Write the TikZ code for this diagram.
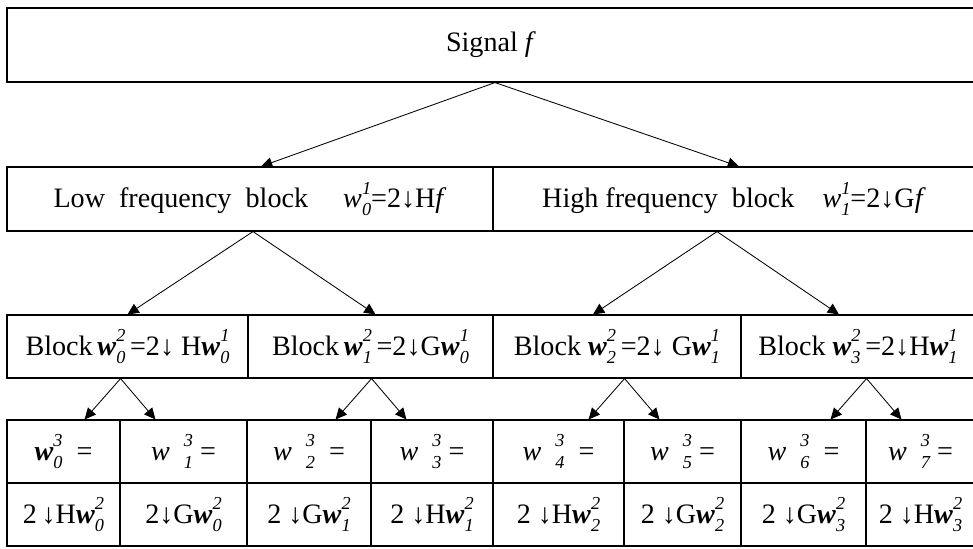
\documentclass[tikz,border=0pt]{standalone}
\usepackage{fontspec}
\setmainfont{Liberation Serif}
\usepackage{tikz}
\usetikzlibrary{positioning,calc}
\usetikzlibrary{arrows.meta}
\newcommand{\sx}[2]{\rlap{\raisebox{-0.6ex}{\fontsize{13}{13}\selectfont\textit{#1}}}\raisebox{1.05ex}{\fontsize{13}{13}\selectfont\textit{#2}}}
\newcommand{\wv}[2]{\textit{w}\sx{#1}{#2}}
\newcommand{\wb}[2]{\textbf{\textit{w}}\sx{#1}{#2}}
\tikzset{
	cell/.style 2 args={draw=black,line width=0.8pt,inner sep=0pt,
		minimum width=(#1)*0.025cm,minimum height=(#2)*0.025cm,
		font=\fontsize{20}{24}\selectfont},
	split/.style={draw=black,line width=0.6pt,-{Triangle[length=8pt,width=7.5pt]}},
}

\begin{document}
\begin{tikzpicture}[x=0.025cm,y=-0.025cm]
	\useasboundingbox (0,0) rectangle (973,548);
	% top
	\node[cell={968}{74}] (sig) at (491,45) {Signal \textit{f}};
	% first level
	\node[cell={486}{64}] (lo) at (250,199) {Low\ \ frequency\ \ block\quad\ \wv{0}{1}=2↓H\textit{f}};
	\node[cell={482}{64}] (hi) at (734,199) {High frequency\ \ block\quad \wv{1}{1}=2↓G\textit{f}};
	% second level
	\node[cell={241}{63}] (m0) at (127.5,346.5) {Block\,\wb{0}{2}\,=2↓ H\wb{0}{1}};
	\node[cell={245}{63}] (m1) at (370.5,346.5) {Block\,\wb{1}{2}\,=2↓G\wb{0}{1}};
	\node[cell={248}{63}] (m2) at (617,346.5) {Block \wb{2}{2}\,=2↓ G\wb{1}{1}};
	\node[cell={234}{63}] (m3) at (858,346.5) {Block \wb{3}{2}\,=2↓H\wb{1}{1}};
	% third level, two rows
	\foreach \i/\xa/\xb/\txta/\txtb in {
		0/7/120/{\wb{0}{3}\ \ =}/{2\,↓H\wb{0}{2}},
		1/120/247/{\textit{w}\ \ \sx{1}{3}\ =}/{2↓G\wb{0}{2}},
		2/247/371/{\textit{w}\ \ \sx{2}{3}\ \ =}/{2 ↓G\wb{1}{2}},
		3/371/493/{\textit{w}\ \ \sx{3}{3}\ =}/{2 ↓H\wb{1}{2}},
		4/493/624/{\textit{w}\ \ \sx{4}{3}\ \ =}/{2 ↓H\wb{2}{2}},
		5/624/741/{\textit{w}\ \ \sx{5}{3}\ =}/{2 ↓G\wb{2}{2}},
		6/741/866/{\textit{w}\ \ \sx{6}{3}\ \ =}/{2 ↓G\wb{3}{2}},
		7/866/975/{\textit{w}\ \ \sx{7}{3}\ =}/{2 ↓H\wb{3}{2}}}
	{
		\node[cell={\xb-\xa}{63}] (a\i) at ({(\xa+\xb)/2},451.5) {\txta};
		\node[cell={\xb-\xa}{63}] (b\i) at ({(\xa+\xb)/2},514.5) {\txtb};
	}
	% arrows
	\draw[split] ($(sig.south)+(4,0)$) -- ($(lo.north)+(11,0)$);
	\draw[split] ($(sig.south)+(4,0)$) -- ($(hi.north)+(5,0)$);
	\draw[split] ($(lo.south)+(3,0)$) -- (m0.north);
	\draw[split] ($(lo.south)+(3,0)$) -- ($(m1.north)+(5,0)$);
	\draw[split] ($(hi.south)+(-17,0)$) -- ($(m2.north)+(-24,0)$);
	\draw[split] ($(hi.south)+(-17,0)$) -- ($(m3.north)+(-19,0)$);
	\foreach \p/\l/\r in {m0/a0/a1,m1/a2/a3,m2/a4/a5,m3/a6/a7}
	{
		\draw[split] (\p.south -| \l.north east) -- ($(\l.north east)+(-36,0)$);
		\draw[split] (\p.south -| \l.north east) -- ($(\r.north west)+(36,0)$);
	}
\end{tikzpicture}
\end{document}
